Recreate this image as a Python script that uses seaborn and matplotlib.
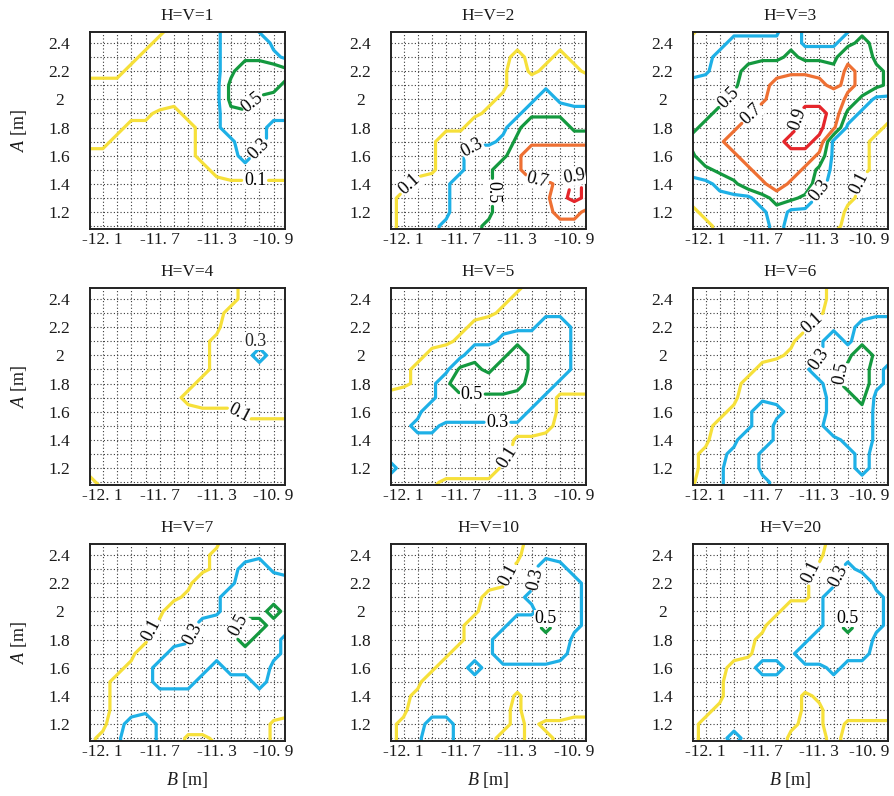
import numpy as np
import matplotlib
matplotlib.use("Agg")
import matplotlib.pyplot as plt
import matplotlib.transforms as mtransforms
import seaborn as sns

# ---------------- data ----------------
# grid nodes: B along columns, A along rows
B_NODES = [-12.2, -12.1, -12.0, -11.9, -11.8, -11.7, -11.6, -11.5,
           -11.4, -11.3, -11.2, -11.1, -11.0, -10.9, -10.8]
A_NODES = [1.0, 1.1, 1.2, 1.3, 1.4, 1.5, 1.6, 1.7,
           1.8, 1.9, 2.0, 2.1, 2.2, 2.3, 2.4, 2.5]
# each digit is a value band; rows run from A=2.5 (top) to A=1.0
BAND_VALUE = [0.05, 0.15, 0.25, 0.35, 0.45, 0.55, 0.65, 0.75, 0.85, 0.95]

HV1 = ["000000122244222", "000001222244422", "000012222244432", "000122222246665",
       "111222222256654", "222222122256444", "222110012244433", "221000001244322",
       "110000001224322", "000000001223222", "000000000122222", "000000000000000",
       "000000000000000", "000000000000000", "000000000000000", "000000000000000"]
HV2 = ["000000000000000", "000000000000000", "000000000100100", "000000000201210",
       "000000000222222", "000000001224222", "000000012244433", "000000222466644",
       "000022223566666", "000022444688888", "000022446688888", "001224446666798",
       "012224446666898", "012224446666776", "012234456666666", "012234456666666"]
HV3 = ["012222242222444", "122333342224544", "223444454446644", "224456666657654",
       "344466788767654", "444566888886422", "445668889984211", "456688889972110",
       "566888899822100", "466688888622100", "345668886422100", "223466866322000",
       "122224554221000", "012222422220000", "001222322210000", "001222322100000"]
HV4 = ["000000000001222", "000000000001222", "000000000012222", "000000000022222",
       "000000000122222", "000000000122322", "000000000122222", "000000001222222",
       "000000012222222", "000000000001111", "000000000000000", "000000000000000",
       "000000000000000", "000000000000000", "100000000000000", "210000000000000"]
HV5 = ["000000000012222", "000000000122222", "000000001222222", "000000122224422",
       "000001223444422", "000122444644422", "001225546644422", "001246666544222",
       "122244444442000", "222444444422000", "223322222221000", "222222222000000",
       "222222221000000", "322222220000000", "222100000000000", "222000000000000"]
HV6 = ["000000000012222", "000000000012222", "000000000022222", "000000000222344",
       "000000002242444", "000000012244643", "000001222445632", "000012222245632",
       "000022222234522", "000124322234422", "001224222244422", "002244222223422",
       "012342222222322", "012442222222322", "022443222222222", "122443222222222"]
HV7 = ["000000000022222", "000000000122222", "000000000123422", "000000002224443",
       "000000012244444", "000000222244454", "000001223445543", "000002224445432",
       "000022344344432", "000123443233422", "001223332222322", "001222222222222",
       "001222222222221", "002342222222200", "012442200122200", "022442200022200"]
HV10 = ["000000000012222", "000000000022222", "000000000124322", "000000000224432",
        "000000012234432", "000000022224432", "000000222445432", "000000224444422",
        "000002224444322", "000022322222222", "000222222222222", "001222222022222",
        "002222221022211", "012332221010000", "012432210011000", "012432210011000"]
HV20 = ["000000000012222", "000000000022222", "000000000123222", "000000000224422",
        "000000000244432", "000000022244432", "000000222245432", "000001222444422",
        "000002224443322", "000123322232222", "000222222222222", "000222220122222",
        "001222220022222", "012222210020000", "012322200010000", "012222200010000"]

GRIDS = [HV1, HV2, HV3, HV4, HV5, HV6, HV7, HV10, HV20]
TITLES = ["H=V=1", "H=V=2", "H=V=3", "H=V=4", "H=V=5", "H=V=6",
          "H=V=7", "H=V=10", "H=V=20"]

LEVELS = [0.1, 0.3, 0.5, 0.7, 0.9]
LEVEL_COLORS = ["#F6E03A", "#1EB0E6", "#14993F", "#EE7033", "#E5262B"]

X_TICKS = [-12.1, -11.7, -11.3, -10.9]
X_TICK_LABELS = ["-12. 1", "-11. 7", "-11. 3", "-10. 9"]
Y_TICKS = [2.4, 2.2, 2.0, 1.8, 1.6, 1.4, 1.2]
Y_TICK_LABELS = ["2.4", "2.2", "2", "1.8", "1.6", "1.4", "1.2"]
X_GRID = [-12.1, -12.0, -11.9, -11.8, -11.7, -11.6, -11.5, -11.4, -11.3,
          -11.2, -11.1, -11.0, -10.9]
Y_GRID = [1.1, 1.2, 1.3, 1.4, 1.5, 1.6, 1.7, 1.8, 1.9, 2.0, 2.1, 2.2, 2.3, 2.4]

# where the contour labels sit (B, A)
LABEL_POS = [
    {0.5: (-11.04, 1.97), 0.3: (-11.04, 1.69), 0.1: (-11.03, 1.36)},
    {0.1: (-12.04, 1.38), 0.3: (-11.61, 1.65), 0.5: (-11.50, 1.34),
     0.7: (-11.16, 1.42), 0.9: (-10.92, 1.50)},
    {0.5: (-11.93, 2.00), 0.7: (-11.77, 1.89), 0.9: (-11.49, 1.86),
     0.3: (-11.31, 1.36), 0.1: (-11.04, 1.42)},
    {0.1: (-11.13, 1.60)},
    {0.5: (-11.62, 1.65), 0.3: (-11.44, 1.52), 0.1: (-11.40, 1.31)},
    {0.1: (-11.35, 2.23), 0.3: (-11.30, 1.97), 0.5: (-11.09, 1.87)},
    {0.1: (-11.76, 1.87), 0.3: (-11.44, 1.83), 0.5: (-11.18, 1.94)},
    {0.1: (-11.33, 2.25), 0.3: (-11.17, 2.23), 0.5: (-11.08, 1.99)},
    {0.1: (-11.33, 2.27), 0.3: (-11.20, 2.26), 0.5: (-11.09, 2.00)},
]
EXTRA_TEXT = {3: ("0.3", (-11.03, 2.10))}

# ---------------- style ----------------
sns.set_theme(style="white")
plt.rcParams["font.family"] = ["Liberation Serif", "DejaVu Serif"]
plt.rcParams["mathtext.fontset"] = "custom"
plt.rcParams["mathtext.rm"] = "Liberation Serif"
plt.rcParams["mathtext.it"] = "Liberation Serif:italic"
plt.rcParams["axes.unicode_minus"] = False

W_PX, H_PX = 894, 796
fig = plt.figure(figsize=(W_PX / 100, H_PX / 100), dpi=100)
fig.patch.set_facecolor("white")

lefts = [90, 390.7, 692.7]
tops = [32, 288, 544]
AW, AH = 195, 197
LABEL_BOX = dict(facecolor="white", edgecolor="none", pad=0.3)

for k, grid in enumerate(GRIDS):
    r, c = divmod(k, 3)
    ax = fig.add_axes([lefts[c] / W_PX, 1 - (tops[r] + AH) / H_PX, AW / W_PX, AH / H_PX])
    Z = np.array([[BAND_VALUE[int(ch)] for ch in row] for row in grid])[::-1]
    zmin, zmax = Z.min(), Z.max()
    for lev, col in zip(LEVELS, LEVEL_COLORS):
        if not (zmin < lev < zmax):
            continue
        cs = ax.contour(B_NODES, A_NODES, Z, levels=[lev], colors=[col],
                        linewidths=2.3, zorder=2)
        try:
            cs.set_joinstyle("round")
            cs.set_capstyle("round")
        except Exception:
            pass
        if lev in LABEL_POS[k]:
            try:
                txts = ax.clabel(cs, manual=[LABEL_POS[k][lev]], inline=True,
                                 inline_spacing=2, fmt="%.1f", fontsize=13,
                                 colors="black")
                for t in txts:
                    t.set_bbox(LABEL_BOX)
                    t.set_zorder(4)
            except Exception:
                pass
    if k in EXTRA_TEXT:
        s, (bx, ay) = EXTRA_TEXT[k]
        ax.text(bx, ay, s, fontsize=13, ha="center", va="center", zorder=4,
                bbox=LABEL_BOX)

    ax.set_xlim(-12.19, -10.82)
    ax.set_ylim(1.08, 2.478)
    ax.set_xticks(X_TICKS)
    ax.set_xticklabels(X_TICK_LABELS)
    ax.set_yticks(Y_TICKS)
    ax.set_yticklabels(Y_TICK_LABELS)
    ax.set_xticks(X_GRID, minor=True)
    ax.set_yticks(Y_GRID, minor=True)
    ax.set_axisbelow(True)
    ax.grid(True, which="both", linestyle=(0, (1, 2)), color="#3a3a3a", linewidth=0.8)
    ax.tick_params(which="both", length=0, labelsize=12.5, colors="#1a1a1a")
    ax.tick_params(axis="x", pad=2)
    ax.tick_params(axis="y", pad=22)
    for lab in ax.get_yticklabels():
        lab.set_horizontalalignment("center")
    if c == 2:
        lab = ax.get_xticklabels()[-1]
        lab.set_transform(lab.get_transform() +
                          mtransforms.ScaledTranslation(-5 / 72, 0, fig.dpi_scale_trans))
    for sp in ax.spines.values():
        sp.set_color("#222222")
        sp.set_linewidth(1.4)
        sp.set_visible(True)
    ax.set_title(TITLES[k], fontsize=12.5, pad=9, color="#1a1a1a")
    if c == 0:
        ax.set_ylabel(r"$A$ [m]", fontsize=13, color="#1a1a1a")
        ax.yaxis.set_label_coords(-0.313, 0.5)
    if r == 2:
        ax.set_xlabel(r"$B$ [m]", fontsize=13, color="#1a1a1a")
        ax.xaxis.set_label_coords(0.5, -0.147)

fig.savefig("out.png", dpi=100, facecolor="white")
